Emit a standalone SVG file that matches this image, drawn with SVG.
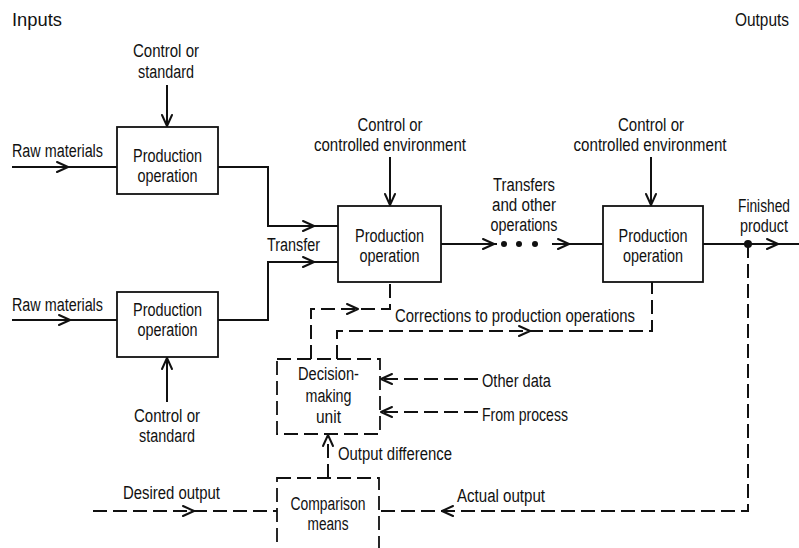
<svg xmlns="http://www.w3.org/2000/svg" width="799" height="548" viewBox="0 0 799 548">
  <style>
    text { font-family: "Liberation Sans", Arial, sans-serif; font-size: 18px; fill: #111111; }
    .c { text-anchor: middle; }
    .box { fill: none; stroke: #111111; stroke-width: 1.8; }
    .dbox { fill: none; stroke: #111111; stroke-width: 1.8; stroke-dasharray: 14 6; }
    .ln { fill: none; stroke: #111111; stroke-width: 2; }
    .dl { fill: none; stroke: #111111; stroke-width: 2; stroke-dasharray: 14 6; }
  </style>
  <defs>
    <!-- open chevron arrowhead, tip at origin, pointing along +x -->
    <path id="chev" d="M-11,-5 L0,0 L-11,5" fill="none" stroke="#111111" stroke-width="2" stroke-linecap="round" stroke-linejoin="round"/>
  </defs>
  <rect width="799" height="548" fill="#ffffff"/>

  <!-- column headings -->
  <g id="headings">
    <text x="12" y="26" textLength="50" lengthAdjust="spacingAndGlyphs">Inputs</text>
    <text x="735" y="26" textLength="54" lengthAdjust="spacingAndGlyphs">Outputs</text>
  </g>

  <!-- production operations -->
  <g id="prod-1">
    <rect class="box" x="117" y="127" width="101" height="67"/>
    <text class="c" x="167.5" y="162" textLength="69" lengthAdjust="spacingAndGlyphs">Production</text>
    <text class="c" x="167.5" y="182" textLength="60" lengthAdjust="spacingAndGlyphs">operation</text>
  </g>
  <g id="prod-2">
    <rect class="box" x="117" y="292" width="101" height="65"/>
    <text class="c" x="167.5" y="316" textLength="69" lengthAdjust="spacingAndGlyphs">Production</text>
    <text class="c" x="167.5" y="336" textLength="60" lengthAdjust="spacingAndGlyphs">operation</text>
  </g>
  <g id="prod-3">
    <rect class="box" x="338" y="206" width="103" height="76"/>
    <text class="c" x="389.5" y="242" textLength="69" lengthAdjust="spacingAndGlyphs">Production</text>
    <text class="c" x="389.5" y="262" textLength="60" lengthAdjust="spacingAndGlyphs">operation</text>
  </g>
  <g id="prod-4">
    <rect class="box" x="603" y="206" width="100" height="76"/>
    <text class="c" x="653" y="242" textLength="69" lengthAdjust="spacingAndGlyphs">Production</text>
    <text class="c" x="653" y="262" textLength="60" lengthAdjust="spacingAndGlyphs">operation</text>
  </g>

  <!-- feedback units -->
  <g id="decision-unit">
    <rect class="dbox" x="277" y="359" width="103" height="75"/>
    <text class="c" x="328.5" y="380" textLength="61" lengthAdjust="spacingAndGlyphs">Decision-</text>
    <text class="c" x="328.5" y="402" textLength="46" lengthAdjust="spacingAndGlyphs">making</text>
    <text class="c" x="328.5" y="423" textLength="25" lengthAdjust="spacingAndGlyphs">unit</text>
  </g>
  <g id="comparison-means">
    <rect class="dbox" x="277" y="478" width="102" height="90"/>
    <text class="c" x="328" y="510" textLength="75" lengthAdjust="spacingAndGlyphs">Comparison</text>
    <text class="c" x="328" y="530" textLength="41" lengthAdjust="spacingAndGlyphs">means</text>
  </g>

  <!-- flow lines -->
  <g id="connectors">
    <!-- material flow (solid) -->
    <path class="ln" d="M12,167 H117"/>
    <use href="#chev" transform="translate(68,167)"/>
    <path class="ln" d="M12,320 H117"/>
    <use href="#chev" transform="translate(70,320)"/>
    <path class="ln" d="M167,85 V127"/>
    <use href="#chev" transform="translate(167,126) rotate(90)"/>
    <path class="ln" d="M167,402 V357"/>
    <use href="#chev" transform="translate(167,358) rotate(-90)"/>
    <path class="ln" d="M218,167 H268 V226 H338"/>
    <use href="#chev" transform="translate(314,226)"/>
    <path class="ln" d="M218,320 H268 V262 H338"/>
    <use href="#chev" transform="translate(314,262)"/>
    <path class="ln" d="M390,157 V206"/>
    <use href="#chev" transform="translate(390,205) rotate(90)"/>
    <path class="ln" d="M651,157 V206"/>
    <use href="#chev" transform="translate(651,205) rotate(90)"/>
    <path class="ln" d="M441,244 H497"/>
    <use href="#chev" transform="translate(494,244)"/>
    <circle cx="504" cy="244" r="3" fill="#111111"/>
    <circle cx="519" cy="244" r="3" fill="#111111"/>
    <circle cx="535" cy="244" r="3" fill="#111111"/>
    <path class="ln" d="M552,244 H603"/>
    <use href="#chev" transform="translate(569,244)"/>
    <path class="ln" d="M703,244 H799"/>
    <circle cx="748" cy="244" r="4" fill="#111111"/>
    <use href="#chev" transform="translate(778,244)"/>

    <!-- information flow (dashed) -->
    <path class="dl" d="M748,244 V511 H379"/>
    <use href="#chev" transform="translate(442,511) rotate(180)"/>
    <path class="dl" d="M93,511 H277"/>
    <use href="#chev" transform="translate(194,511)"/>
    <path class="dl" d="M328,478 V435"/>
    <use href="#chev" transform="translate(328,435) rotate(-90)"/>
    <path class="dl" d="M478,379 H381"/>
    <use href="#chev" transform="translate(381,379) rotate(180)"/>
    <path class="dl" d="M478,412 H381"/>
    <use href="#chev" transform="translate(381,412) rotate(180)"/>
    <path class="dl" d="M311,359 V309 H390 V282"/>
    <use href="#chev" transform="translate(358,309)"/>
    <path class="dl" d="M337,359 V331 H652 V282"/>
    <use href="#chev" transform="translate(530,331)"/>
  </g>

  <!-- flow labels -->
  <g id="labels">
    <text class="c" x="166" y="57" textLength="66" lengthAdjust="spacingAndGlyphs">Control or</text>
    <text class="c" x="166" y="78" textLength="56" lengthAdjust="spacingAndGlyphs">standard</text>
    <text x="12" y="157" textLength="91" lengthAdjust="spacingAndGlyphs">Raw materials</text>
    <text x="12" y="311" textLength="91" lengthAdjust="spacingAndGlyphs">Raw materials</text>
    <text class="c" x="167" y="422" textLength="66" lengthAdjust="spacingAndGlyphs">Control or</text>
    <text class="c" x="167" y="442" textLength="56" lengthAdjust="spacingAndGlyphs">standard</text>
    <text x="267" y="251" textLength="53" lengthAdjust="spacingAndGlyphs">Transfer</text>
    <text class="c" x="390" y="131" textLength="65" lengthAdjust="spacingAndGlyphs">Control or</text>
    <text class="c" x="390" y="151" textLength="152" lengthAdjust="spacingAndGlyphs">controlled environment</text>
    <text class="c" x="524" y="191" textLength="62" lengthAdjust="spacingAndGlyphs">Transfers</text>
    <text class="c" x="524" y="211" textLength="64" lengthAdjust="spacingAndGlyphs">and other</text>
    <text class="c" x="524" y="231" textLength="67" lengthAdjust="spacingAndGlyphs">operations</text>
    <text class="c" x="651" y="131" textLength="66" lengthAdjust="spacingAndGlyphs">Control or</text>
    <text class="c" x="650" y="151" textLength="153" lengthAdjust="spacingAndGlyphs">controlled environment</text>
    <text class="c" x="764" y="212" textLength="52" lengthAdjust="spacingAndGlyphs">Finished</text>
    <text class="c" x="764" y="232" textLength="48" lengthAdjust="spacingAndGlyphs">product</text>
    <text x="395" y="322" textLength="240" lengthAdjust="spacingAndGlyphs">Corrections to production operations</text>
    <text x="482" y="387" textLength="69" lengthAdjust="spacingAndGlyphs">Other data</text>
    <text x="482" y="421" textLength="86" lengthAdjust="spacingAndGlyphs">From process</text>
    <text x="338" y="460" textLength="114" lengthAdjust="spacingAndGlyphs">Output difference</text>
    <text x="123" y="499" textLength="97" lengthAdjust="spacingAndGlyphs">Desired output</text>
    <text x="457" y="502" textLength="88" lengthAdjust="spacingAndGlyphs">Actual output</text>
  </g>
</svg>
